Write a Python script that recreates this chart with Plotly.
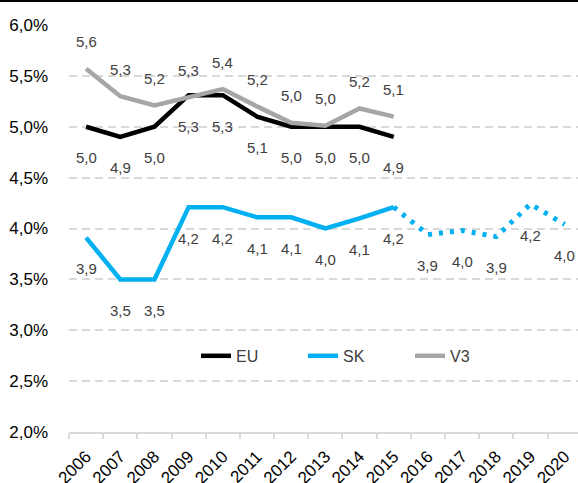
import plotly.graph_objects as go

years = [str(y) for y in range(2006, 2021)]
hist_years = years[:10]
fc_years = years[9:]

eu = [5.0, 4.9, 5.0, 5.31, 5.31, 5.1, 5.0, 5.0, 5.0, 4.9]
sk = [3.91, 3.5, 3.5, 4.21, 4.21, 4.11, 4.11, 4.0, 4.1, 4.21]
sk_fc = [4.21, 3.94, 3.98, 3.92, 4.24, 4.04]
v3 = [5.57, 5.3, 5.21, 5.29, 5.37, 5.2, 5.04, 5.01, 5.18, 5.1]

C_EU = "#000000"
C_SK = "#00B0F0"
C_V3 = "#A6A6A6"
FONT = "Liberation Sans, Arial, sans-serif"

W, H = 578, 483
ML, MR, MT, MB = 69, 0, 25, 51

fig = go.Figure()
fig.add_trace(go.Scatter(x=hist_years, y=eu, mode="lines", name="EU",
                         line=dict(color=C_EU, width=4.5)))
fig.add_trace(go.Scatter(x=hist_years, y=sk, mode="lines", name="SK",
                         line=dict(color=C_SK, width=4.5)))
fig.add_trace(go.Scatter(x=fc_years, y=sk_fc, mode="lines", name="SK prognóza",
                         showlegend=False,
                         line=dict(color=C_SK, width=5, dash="4px,7px")))
fig.add_trace(go.Scatter(x=hist_years, y=v3, mode="lines", name="V3",
                         line=dict(color=C_V3, width=4.5)))

annotations = []
def add_labels(xs, ys, shift):
    for xv, yv in zip(xs, ys):
        annotations.append(dict(
            x=years.index(xv), y=yv, xref="x", yref="y", showarrow=False,
            text=f"{yv:.1f}".replace(".", ","), yshift=shift,
            font=dict(family=FONT, size=15, color="#404040")))

add_labels(hist_years, eu, -31)
add_labels(hist_years, sk, -31)
add_labels(fc_years[1:], sk_fc[1:], -31)
add_labels(hist_years, v3, 27)

plot_w = W - ML - MR
plot_h = H - MT - MB
top_y = 1 + (MT - 1.0) / plot_h

fig.update_layout(
    width=W, height=H,
    margin=dict(l=ML, r=MR, t=MT, b=MB, autoexpand=False),
    paper_bgcolor="white", plot_bgcolor="white",
    separators=", ",
    font=dict(family=FONT, size=16, color="#000000"),
    annotations=annotations,
    showlegend=True,
    legend=dict(orientation="h", x=(196 - ML) / plot_w, xanchor="left",
                y=0.187, yanchor="middle",
                font=dict(family=FONT, size=16, color="#404040"),
                entrywidth=62, entrywidthmode="pixels",
                bgcolor="rgba(0,0,0,0)"),
    shapes=[dict(type="line", xref="paper", yref="paper", x0=-0.2, x1=1.2,
                 y0=top_y, y1=top_y, line=dict(color="black", width=2))],
    xaxis=dict(type="category", range=[-0.5, 14.39], showgrid=False,
               showline=True, linecolor="#D9D9D9", linewidth=2,
               ticks="outside", tickson="boundaries", ticklen=5,
               tickcolor="#D9D9D9", tickwidth=2, tickangle=-45,
               ticklabelstandoff=6,
               tickfont=dict(family=FONT, size=17, color="#000000"),
               automargin=False, fixedrange=True),
    yaxis=dict(range=[2.0, 6.0], dtick=0.5, tick0=2.0, tickformat=".1f",
               ticksuffix="%", showgrid=True, gridcolor="#D9D9D9",
               gridwidth=1.5, griddash="8px,5px", zeroline=False,
               showline=False, ticks="", ticklabelstandoff=20,
               tickfont=dict(family=FONT, size=17, color="#000000"),
               automargin=False, fixedrange=True),
)

fig.write_html("out.html", config={"displayModeBar": False},
               post_script="document.body.style.margin='0px';document.body.style.overflow='hidden';")
